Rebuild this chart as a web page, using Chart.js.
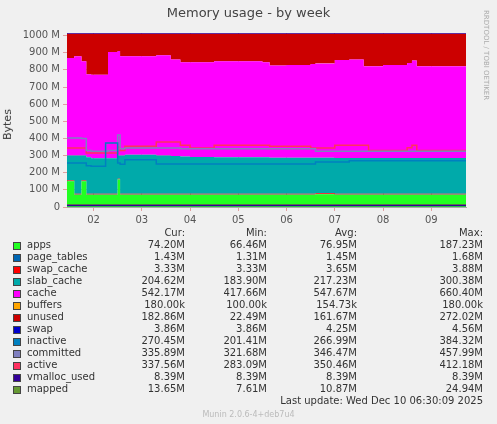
<!DOCTYPE html>
<html><head><meta charset="utf-8">
<script src="https://cdn.jsdelivr.net/npm/chart.js@4"></script>
<style>
  body { margin:0; background:#f0f0f0; font-family:"DejaVu Sans", sans-serif; }
  #wrap { position:relative; width:497px; height:424px; overflow:hidden; }
  #c { position:absolute; left:0; top:0; }
  .t { position:absolute; font-size:10px; color:#333; white-space:pre; }
  .r { text-align:right; }
  .sw { position:absolute; width:6px; height:6px; border:1px solid #444; }
</style></head>
<body><div id="wrap">
<canvas id="c" width="497" height="230"></canvas>
<div class="t" style="left:0;width:497px;top:5px;text-align:center;font-size:13px;color:#444">Memory usage - by week</div>
<div class="t" style="left:-8px;top:118px;transform:rotate(-90deg);font-size:11px">Bytes</div>
<div class="t" style="left:482px;top:10px;writing-mode:vertical-rl;font-size:7px;color:#aaa">RRDTOOL / TOBI OETIKER</div>
<div id="leg"></div>
<div class="t r" style="right:14px;top:395px">Last update: Wed Dec 10 06:30:09 2025</div>
<div class="t" style="left:0;width:497px;top:410px;text-align:center;font-size:8px;color:#bbb">Munin 2.0.6-4+deb7u4</div>
</div>
<script>
// time in days, values in MB
const times = [1.45,1.6,1.75,1.85,1.95,2.1,2.25,2.3,2.5,2.55,2.65,2.75,3.0,3.3,3.6,3.8,4.0,4.5,5.0,5.5,5.65,6.0,6.5,6.6,7.0,7.3,7.6,7.7,8.0,8.5,8.6,8.7,9.0,9.72];
const apps = [150,72,150,72,72,72,72,72,160,72,72,72,72,72,72,72,72,72,72,72,72,72,72,75,72,72,72,72,72,72,72,72,72,72];
const pageTables = times.map(() => 1.4);
const swapCache = times.map(() => 3.3);
const slabCache = [145,223,145,213,208,208,208,208,135,223,228,228,228,223,221,218,215,213,213,213,211,211,211,208,209,209,209,209,209,209,209,209,209,209];
const cache = [570,580,550,485,487,487,487,620,610,580,575,575,575,585,562,550,553,560,560,555,537,540,547,550,572,574,536,536,542,554,569,536,536,536];
const buffers = times.map(() => 0.18);
const unused = [141,131,161,236,239,239,239,106,101,131,131,131,131,126,151,166,166,161,161,166,186,183,176,173,153,151,189,189,183,171,156,189,189,189];
const swap = times.map(() => 3.9);
const inactive = [257,257,257,240,237,237,373,373,257,250,276,276,276,251,251,251,251,251,251,251,251,251,251,263,263,270,270,270,270,270,270,270,270,270];
const committed = [403,403,400,330,325,325,325,330,420,340,344,344,344,344,344,340,340,340,340,340,340,340,340,325,325,325,325,325,325,325,325,325,325,325];
const active = [344,344,344,315,315,315,315,315,350,330,354,354,354,379,379,360,344,360,360,360,354,354,344,344,360,360,360,329,329,345,360,329,329,329];
const vmallocUsed = times.map(() => 8.39);
const mapped = times.map(() => 13.6);
const dayLabels = ['02','03','04','05','06','07','08','09'];

const legendRows = [
  ['apps','#22ff22','74.20M','66.46M','76.95M','187.23M'],
  ['page_tables','#0066b3','1.43M','1.31M','1.45M','1.68M'],
  ['swap_cache','#ff0000','3.33M','3.33M','3.65M','3.88M'],
  ['slab_cache','#00aaaa','204.62M','183.90M','217.23M','300.38M'],
  ['cache','#ff00ff','542.17M','417.66M','547.67M','660.40M'],
  ['buffers','#ffa500','180.00k','100.00k','154.73k','180.00k'],
  ['unused','#cc0000','182.86M','22.49M','161.67M','272.02M'],
  ['swap','#0000cc','3.86M','3.86M','4.25M','4.56M'],
  ['inactive','#0080c0','270.45M','201.41M','266.99M','384.32M'],
  ['committed','#8080c0','335.89M','321.68M','346.47M','457.99M'],
  ['active','#ff3060','337.56M','283.09M','350.46M','412.18M'],
  ['vmalloc_used','#330099','8.39M','8.39M','8.39M','8.39M'],
  ['mapped','#669933','13.65M','7.61M','10.87M','24.94M'],
];

let html = '';
[['Cur:',185],['Min:',267],['Avg:',357],['Max:',483]].forEach(([h, x]) => {
  html += `<div class="t r" style="left:${x-80}px;width:80px;top:227px">${h}</div>`;
});
legendRows.forEach((r, i) => {
  const y = 239 + i * 12;
  html += `<div class="sw" style="left:13px;top:${y+3}px;background:${r[1]}"></div>`;
  html += `<div class="t" style="left:27px;top:${y}px">${r[0]}</div>`;
  [185,267,357,483].forEach((x, j) => {
    html += `<div class="t r" style="left:${x-80}px;width:80px;top:${y}px">${r[j+2]}</div>`;
  });
});
document.getElementById('leg').innerHTML = html;

const pts = arr => arr.map((v, i) => ({ x: times[i], y: v }));
const area = (label, arr, color, first) => ({
  label, data: pts(arr), backgroundColor: color, borderColor: color, borderWidth: 0,
  fill: first ? 'origin' : '-1', stack: 'mem', pointRadius: 0, stepped: true, order: 5,
});
const line = (label, arr, color, st) => ({
  label, data: pts(arr), borderColor: color, borderWidth: 1.5, fill: false,
  stack: st, pointRadius: 0, stepped: true, order: 0,
});

new Chart(document.getElementById('c'), {
  type: 'line',
  data: { datasets: [
    area('apps', apps, '#22ff22', true),
    area('page_tables', pageTables, '#0066b3'),
    area('swap_cache', swapCache, '#ff0000'),
    area('slab_cache', slabCache, '#00aaaa'),
    area('cache', cache, '#ff00ff'),
    area('buffers', buffers, '#ffa500'),
    area('unused', unused, '#cc0000'),
    area('swap', swap, '#0000cc'),
    line('inactive', inactive, '#0080c0', 's1'),
    line('committed', committed, '#8080c0', 's2'),
    line('active', active, '#ff3060', 's3'),
    line('vmalloc_used', vmallocUsed, '#330099', 's4'),
    line('mapped', mapped, '#669933', 's5'),
  ]},
  options: {
    responsive: false, animation: false,
    layout: { padding: { left: 0, right: 31, top: 33, bottom: 0 } },
    plugins: { legend: { display: false }, tooltip: { enabled: false } },
    scales: {
      x: {
        type: 'linear', min: 1.45, max: 9.72,
        afterFit: s => { s.height = 23; },
        afterBuildTicks: s => { s.ticks = dayLabels.map((d, i) => ({ value: i + 2 })); },
        ticks: { callback: v => dayLabels[v - 2], color: '#555', font: { family: 'DejaVu Sans', size: 10 }, maxRotation: 0 },
        grid: { color: '#e0a0a0', tickLength: 4 },
        border: { color: '#aaa' },
      },
      y: {
        stacked: true, min: 0, max: 1015,
        afterFit: s => { s.width = 67; },
        afterBuildTicks: s => { s.ticks = [0,100,200,300,400,500,600,700,800,900,1000].map(v => ({ value: v })); },
        ticks: { callback: v => v === 0 ? '0' : v + ' M', color: '#555', font: { family: 'DejaVu Sans', size: 10 } },
        grid: { color: '#e0a0a0', tickLength: 4 },
        border: { color: '#aaa' },
      },
    },
  },
});
</script>
</body></html>
